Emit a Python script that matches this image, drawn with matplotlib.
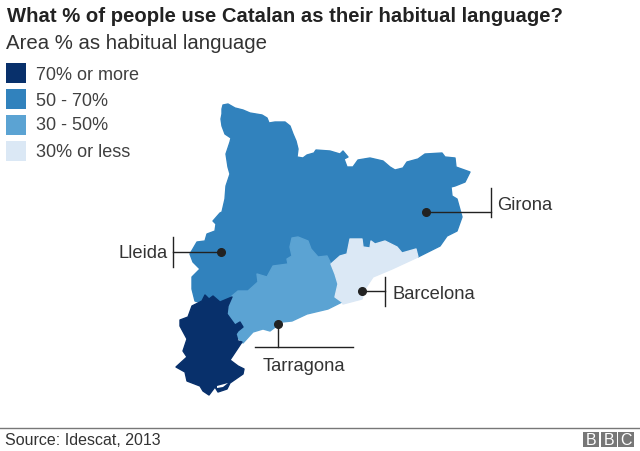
import matplotlib
matplotlib.use('Agg')
import matplotlib.pyplot as plt
from matplotlib.patches import Polygon, Rectangle

plt.rcParams['font.family'] = ['Liberation Sans', 'DejaVu Sans']

title = 'What % of people use Catalan as their habitual language?'
subtitle = 'Area % as habitual language'
source = 'Source: Idescat, 2013'

legend_labels = ['70% or more', '50 - 70%', '30 - 50%', '30% or less']
legend_colors = ['#08306b', '#3182bd', '#5ba3d3', '#dbe8f5']

# outlines, in pixels
blue_outline = [
    (222, 110), (223, 106), (228, 105), (235, 109), (243, 111), (250, 114), (262, 116), (267, 119),
    (269, 124), (275, 123), (285, 123), (290, 127), (293, 135), (296, 142), (298, 150), (297, 158),
    (303, 159), (307, 156), (314, 154), (316, 151), (330, 152), (340, 155), (343, 152), (348, 158),
    (344, 160), (347, 168), (353, 168), (358, 161), (370, 159), (383, 162), (390, 168), (395, 171),
    (403, 169), (407, 163), (418, 160), (425, 155), (442, 154), (445, 158), (455, 159), (456, 168),
    (470, 173), (465, 183), (455, 187), (451, 188), (452, 197), (457, 200), (462, 218), (457, 232),
    (447, 237), (440, 247), (418, 258), (416, 250), (402, 254), (397, 248), (385, 242), (375, 245),
    (371, 242), (370, 249), (363, 248), (362, 240), (350, 240), (347, 255), (340, 257), (331, 265),
    (320, 270), (290, 270), (270, 280), (250, 295), (233, 300), (220, 303), (209, 303), (202, 304),
    (195, 302), (192, 290), (192, 278), (200, 270), (193, 263), (190, 255), (197, 243), (205, 242),
    (207, 235), (215, 232), (216, 225), (213, 222), (220, 214), (222, 213), (225, 200), (226, 187),
    (230, 175), (228, 168), (226, 155), (230, 143), (231, 139), (225, 135), (222, 127), (221, 120),
    (222, 115),
]
mid_outline = [
    (290, 248), (292, 239), (298, 238), (308, 242), (311, 250), (318, 258), (327, 257), (331, 265),
    (335, 275), (338, 285), (335, 298), (342, 303), (328, 310), (307, 315), (292, 322), (282, 323),
    (270, 332), (263, 330), (253, 333), (243, 344), (237, 338), (237, 333), (243, 327), (238, 323),
    (235, 326), (226, 315), (228, 303), (232, 297), (238, 292), (248, 292), (258, 283), (257, 275),
    (267, 278), (273, 267), (288, 265), (287, 260), (292, 257),
]
light_outline = [
    (331, 265), (340, 257), (347, 255), (350, 240), (362, 240), (363, 248), (370, 249), (371, 242),
    (375, 245), (385, 242), (397, 248), (402, 254), (416, 250), (418, 258), (392, 270), (373, 278),
    (365, 290), (362, 300), (343, 305), (342, 303), (335, 298), (338, 285), (335, 275),
]
dark_outline = [
    (232, 298), (220, 303), (213, 297), (209, 300), (205, 296), (202, 302), (192, 307), (188, 318),
    (180, 321), (180, 327), (187, 340), (183, 352), (187, 358), (176, 368), (185, 373), (187, 382),
    (200, 387), (203, 392), (209, 396), (215, 388), (218, 393), (227, 390), (230, 384), (243, 375),
    (244, 370), (238, 367), (230, 361), (242, 343), (238, 342), (236, 335), (238, 332), (243, 328),
    (240, 323), (235, 326), (227, 315), (228, 307),
]
delta_gap = [(217, 387), (228, 384), (223, 388), (217, 389)]

city_names = ['Lleida', 'Girona', 'Barcelona', 'Tarragona']
city_points = [(221, 253), (426, 213), (362, 292), (278, 325)]
label_points = [(118, 254), (497, 205.5), (393, 294.5), (304, 366.5)]
leader_ends = [(173, 253), (491, 213), (385, 292), (278, 348)]
bar_ends = [((173, 238), (173, 268)), ((491, 189), (491, 218)), ((385, 278), (385, 307)), ((255, 348), (353, 348))]

fig = plt.figure(figsize=(6.4, 4.52), dpi=100)
ax = fig.add_axes([0, 0, 1, 1])
ax.set_xlim(0, 640)
ax.set_ylim(452, 0)
ax.axis('off')

# regions
for outline, color in zip([blue_outline, mid_outline, light_outline, dark_outline], [legend_colors[1], legend_colors[2], legend_colors[3], legend_colors[0]]):
    ax.add_patch(Polygon(outline, closed=True, facecolor=color, edgecolor=color, linewidth=1, joinstyle='round'))
ax.add_patch(Polygon(delta_gap, closed=True, facecolor='white', edgecolor='none'))

# titles
ax.text(7, 16.5, title, fontsize=14.6, fontweight='bold', color='#222222', va='center')
ax.text(6, 43.5, subtitle, fontsize=14.7, color='#333333', va='center')

# legend
legend_text_y = [76, 102, 126, 153]
for i, (label, color) in enumerate(zip(legend_labels, legend_colors)):
    ax.add_patch(Rectangle((6, 64 + i * 26), 20, 20, facecolor=color, edgecolor='none'))
    ax.text(36, legend_text_y[i], label, fontsize=13, color='#404040', va='center')

# city callouts
for name, pt, lab, end, bar in zip(city_names, city_points, label_points, leader_ends, bar_ends):
    ax.plot([pt[0], end[0]], [pt[1], end[1]], color='#222222', lw=1)
    ax.plot([bar[0][0], bar[1][0]], [bar[0][1], bar[1][1]], color='#222222', lw=1)
    ax.plot(*pt, 'o', color='#222222', ms=5.5)
    ax.text(lab[0], lab[1], name, fontsize=13.2, color='#333333', va='center', ha='center' if name == 'Tarragona' else 'left')

# footer
ax.plot([0, 640], [429, 429], color='#777777', lw=1)
ax.text(5, 441, source, fontsize=11.5, color='#333333', va='center')
for x, letter in zip([583, 601, 618], 'BBC'):
    ax.add_patch(Rectangle((x, 433), 16, 15, facecolor='#777777', edgecolor='none'))
    ax.text(x + 8, 441, letter, fontsize=11.5, color='white', ha='center', va='center')

fig.savefig('out.png', dpi=100)
